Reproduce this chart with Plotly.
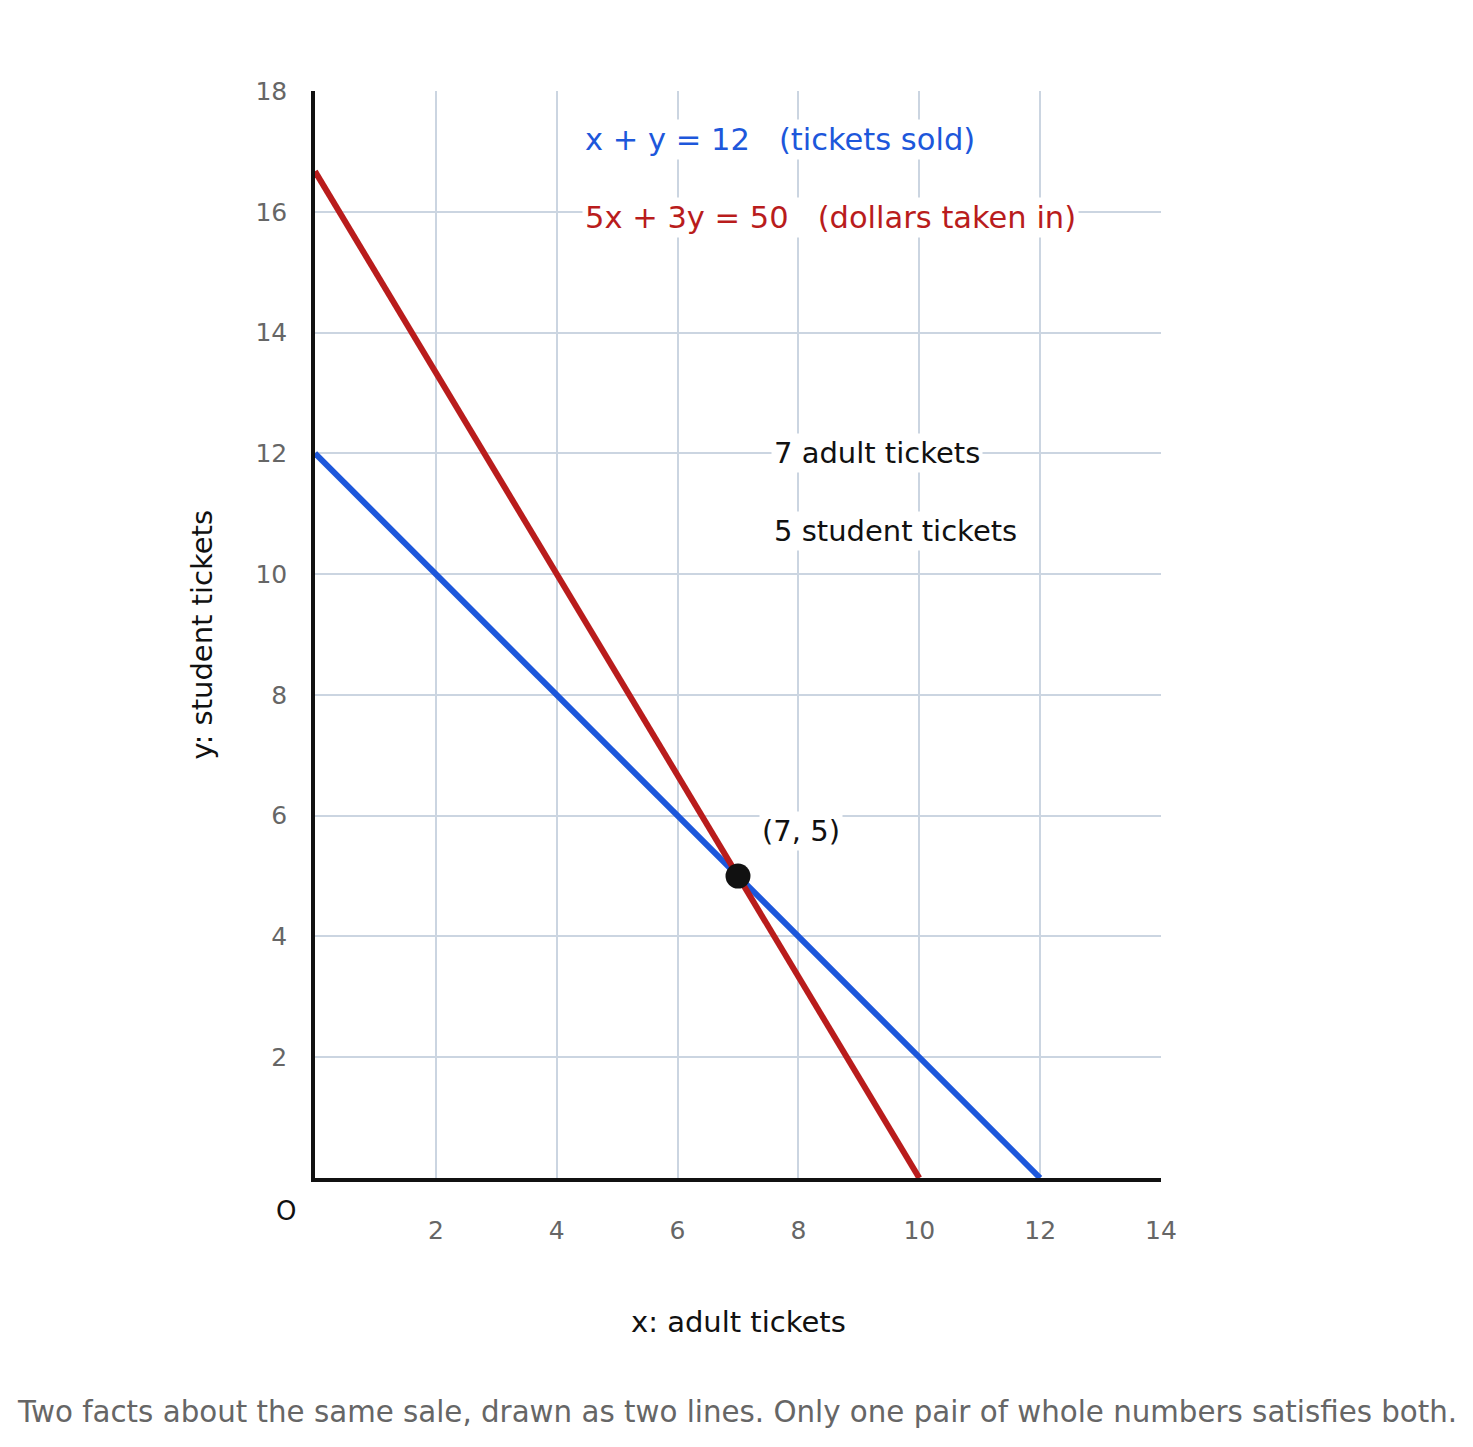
"""
Two lines, one solution: x + y = 12 and 5x + 3y = 50
"""

import plotly.graph_objects as go

# data
blue_x = [0, 12]
blue_y = [12, 0]
red_x = [0, 10]
red_y = [16.67, 0]
sol_x = [7]
sol_y = [5]
x_ticks = [2, 4, 6, 8, 10, 12, 14]
y_ticks = [2, 4, 6, 8, 10, 12, 14, 16, 18]

BLUE = '#1d57db'
RED = '#b91c1c'
INK = '#111111'
GREY = '#666666'
GRID = '#cbd5e1'
FONT = 'DejaVu Sans'

fig = go.Figure()

fig.add_trace(go.Scatter(x=blue_x, y=blue_y, mode='lines',
                         line=dict(color=BLUE, width=6), hoverinfo='skip'))
fig.add_trace(go.Scatter(x=red_x, y=red_y, mode='lines',
                         line=dict(color=RED, width=6), hoverinfo='skip'))
fig.add_trace(go.Scatter(x=sol_x, y=sol_y, mode='markers',
                         marker=dict(color=INK, size=25), hoverinfo='skip'))

nb = '\u00a0'
ann = [
    dict(x=4.42, y=17.2, text=f"x + y = 12{nb*3}(tickets sold)", font=dict(color=BLUE, size=30.5)),
    dict(x=4.42, y=15.9, text=f"5x + 3y = 50{nb*3}(dollars taken in)", font=dict(color=RED, size=30.5)),
    dict(x=7.54, y=12.0, text="7 adult tickets", font=dict(color=INK, size=29)),
    dict(x=7.54, y=10.71, text="5 student tickets", font=dict(color=INK, size=29)),
    dict(x=7.34, y=5.74, text="(7, 5)", font=dict(color=INK, size=29)),
]
for a in ann:
    fig.add_annotation(xref='x', yref='y', xanchor='left', yanchor='middle',
                       showarrow=False, bgcolor='white', borderpad=2, **a)

# origin label, axis titles, caption
paper_ann = [
    dict(x=0, y=0, xshift=-29, yshift=-33, text="O", font=dict(color=INK, size=26)),
    dict(x=0.5, y=0, yshift=-144, text="x: adult tickets", font=dict(color=INK, size=29)),
    dict(x=0, y=0.5, xshift=-114, textangle=-90, text="y: student tickets", font=dict(color=INK, size=29)),
    dict(x=0.5, y=0, yshift=-234, xshift=-1,
         text="Two facts about the same sale, drawn as two lines. Only one pair of whole numbers satisfies both.",
         font=dict(color=GREY, size=29.3)),
]
for a in paper_ann:
    fig.add_annotation(xref='paper', yref='paper', xanchor='center', yanchor='middle',
                       showarrow=False, **a)

fig.update_xaxes(range=[0, 14], tickvals=x_ticks, showgrid=True, gridcolor=GRID, gridwidth=2,
                 zeroline=False, showline=True, linecolor=INK, linewidth=3.5,
                 tickfont=dict(color=GREY, size=25), ticklabelstandoff=27)
fig.update_yaxes(range=[0, 18], tickvals=y_ticks, showgrid=True, gridcolor=GRID, gridwidth=2,
                 zeroline=False, showline=True, linecolor=INK, linewidth=3.5,
                 tickfont=dict(color=GREY, size=25), ticklabelstandoff=19)

fig.update_layout(
    width=1473,
    height=1447,
    margin=dict(l=307, r=320, t=83, b=277),
    showlegend=False,
    font=dict(family=FONT),
    plot_bgcolor='white',
    paper_bgcolor='white',
)

fig.write_html("out.html")
